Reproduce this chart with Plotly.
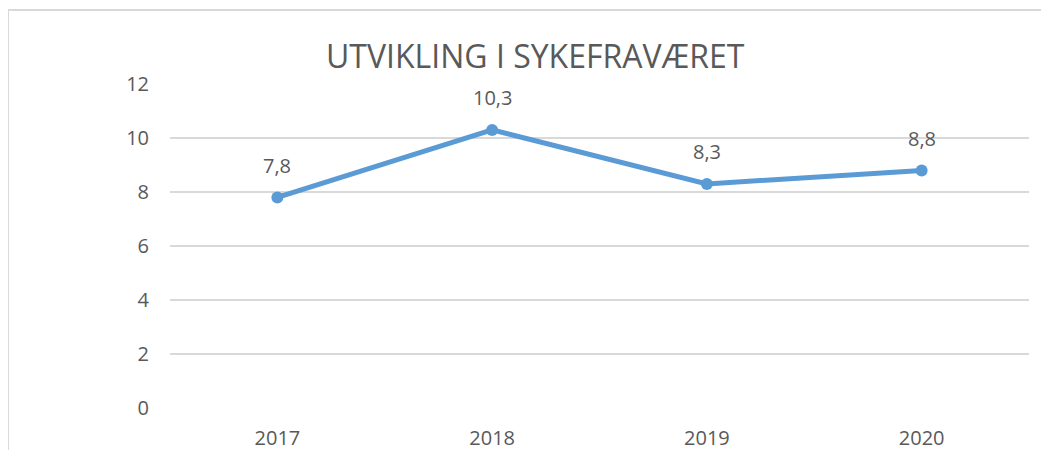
import plotly.graph_objects as go

years = ["2017", "2018", "2019", "2020"]
values = [7.8, 10.3, 8.3, 8.8]
y_ticks = [0, 2, 4, 6, 8, 10, 12]
title_text = "UTVIKLING I SYKEFRAVÆRET"

LINE = "#5B9BD5"
TXT = "#595959"
GRID = "#D9D9D9"
FONT = "Open Sans, Liberation Sans, Arial, sans-serif"

# page body has an 8px default margin -> figure is placed at (8, 8)
PW, PH = 859, 324  # plot area size

fig = go.Figure()
fig.add_trace(go.Scatter(
    x=years, y=values, mode="lines+markers",
    line=dict(color=LINE, width=5),
    marker=dict(color=LINE, size=12),
    hoverinfo="skip", showlegend=False,
))

for i, v in enumerate(values):
    fig.add_annotation(x=i, y=v, xref="x", yref="y", text=f"{v:.1f}".replace(".", ","),
                       showarrow=False, yshift=32,
                       font=dict(family=FONT, size=20, color=TXT))

fig.add_annotation(xref="paper", yref="paper", x=(535 - 170) / PW, y=1 + (84 - 55) / PH,
                   text=title_text, showarrow=False, xanchor="center", yanchor="middle",
                   font=dict(family=FONT, size=32, color=TXT))

# outer chart border (top and left visible)
fig.add_shape(type="rect", xref="paper", yref="paper",
              x0=(8 - 170) / PW, x1=(1070 - 170) / PW,
              y0=-(470 - 408) / PH, y1=1 + (84 - 10) / PH,
              line=dict(color=GRID, width=2), layer="below")

fig.update_layout(
    width=1041, height=442,
    margin=dict(l=162, r=20, t=76, b=42, autoexpand=False),
    paper_bgcolor="white", plot_bgcolor="white",
    font=dict(family=FONT, color=TXT),
    xaxis=dict(type="category", range=[-0.5, 3.5], showgrid=False, zeroline=False,
               showline=False, ticks="", tickfont=dict(size=20, color=TXT),
               ticklabelstandoff=16, automargin=False, fixedrange=True),
    yaxis=dict(range=[0, 12], tickvals=y_ticks, showgrid=True, gridcolor=GRID, gridwidth=1.5,
               zeroline=False, showline=False, ticks="", tickfont=dict(size=20, color=TXT),
               ticklabelstandoff=20, automargin=False, fixedrange=True),
)

fig.write_html("out.html")
